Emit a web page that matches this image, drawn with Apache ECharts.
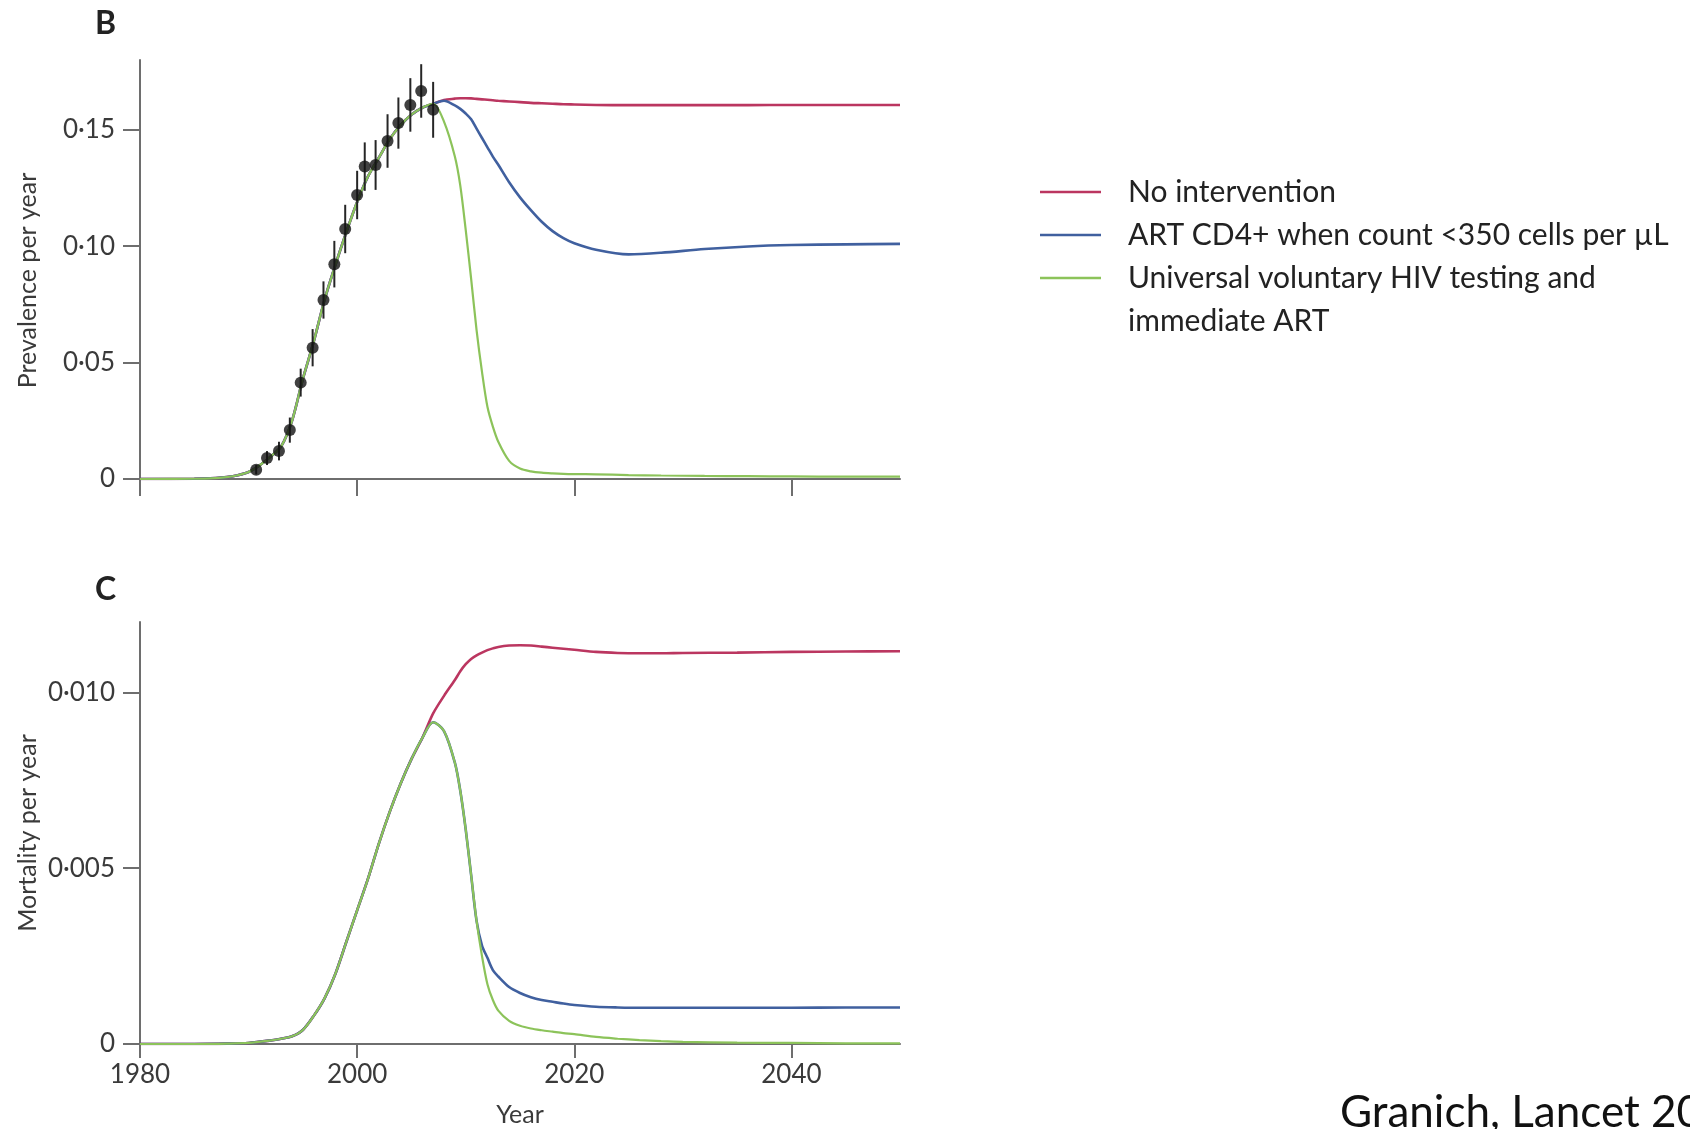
<!DOCTYPE html>
<html>
<head>
<meta charset="utf-8">
<script src="https://cdn.jsdelivr.net/npm/echarts@6/dist/echarts.min.js"></script>
<style>
  html, body { margin: 0; padding: 0; background: #fff; }
  #chart { width: 1690px; height: 1129px; }
</style>
</head>
<body>
<div id="chart"></div>
<script>
// panel B: prevalence per year
const prevYears = [1980, 1985, 1987, 1988, 1989, 1990, 1991, 1992, 1993, 1994, 1995, 1996, 1997, 1998, 1999, 2000, 2001, 2002, 2003, 2004, 2005, 2006, 2007,
  2008, 2009, 2009.5, 2010, 2010.5, 2011, 2011.5, 2012, 2012.5, 2013, 2014, 2015, 2016, 2017, 2018, 2019, 2020, 2022, 2025, 2028, 2032, 2036, 2040, 2045, 2050];
const prevNoIntervention = [0, 0.0001, 0.0004, 0.0008, 0.0016, 0.003, 0.0058, 0.0095, 0.014, 0.025, 0.043, 0.059, 0.077, 0.092, 0.106, 0.119, 0.13, 0.138, 0.146, 0.152, 0.1565, 0.1595, 0.1612,
  0.1628, 0.1634, 0.1636, 0.1636, 0.1635, 0.1633, 0.1631, 0.1629, 0.1627, 0.1625, 0.1622, 0.1619, 0.1616, 0.1614, 0.1612, 0.161, 0.1609, 0.1607, 0.1606, 0.1606, 0.1606, 0.1606, 0.1607, 0.1607, 0.1607];
const prevArt350 = [0, 0.0001, 0.0004, 0.0008, 0.0016, 0.003, 0.0058, 0.0095, 0.014, 0.025, 0.043, 0.059, 0.077, 0.092, 0.106, 0.119, 0.13, 0.138, 0.146, 0.152, 0.1565, 0.1595, 0.1612,
  0.1625, 0.1605, 0.159, 0.157, 0.1545, 0.1505, 0.1465, 0.1425, 0.1385, 0.135, 0.1275, 0.121, 0.1155, 0.1105, 0.1065, 0.1035, 0.1013, 0.0985, 0.0965, 0.0972, 0.0988, 0.0999, 0.1005, 0.1008, 0.101];
const prevUniversal = [0, 0.0001, 0.0004, 0.0008, 0.0016, 0.003, 0.0058, 0.0095, 0.014, 0.025, 0.043, 0.059, 0.077, 0.092, 0.106, 0.119, 0.13, 0.138, 0.146, 0.152, 0.1565, 0.1595, 0.1612,
  0.1535, 0.1385, 0.126, 0.107, 0.086, 0.064, 0.046, 0.031, 0.0225, 0.016, 0.0078, 0.0045, 0.0033, 0.0027, 0.0024, 0.0022, 0.0021, 0.002, 0.0017, 0.0015, 0.0013, 0.0012, 0.0011, 0.001, 0.001];

// observed prevalence with error bars
const obsYears = [1990.7, 1991.7, 1992.8, 1993.8, 1994.8, 1995.9, 1996.9, 1997.9, 1998.9, 2000.0, 2000.7, 2001.7, 2002.8, 2003.8, 2004.9, 2005.9, 2007.0];
const obsPrev = [0.004, 0.009, 0.012, 0.021, 0.0414, 0.0564, 0.0769, 0.0923, 0.1074, 0.122, 0.1342, 0.1349, 0.1452, 0.1529, 0.1607, 0.1667, 0.1586];
const obsErr = [0.002, 0.003, 0.004, 0.0054, 0.006, 0.008, 0.008, 0.010, 0.0104, 0.0104, 0.0104, 0.0107, 0.0115, 0.011, 0.0115, 0.0115, 0.012];

// panel C: mortality per year
const mortYears = [1980, 1985, 1988, 1990, 1992, 1993, 1994, 1995, 1996, 1997, 1998, 1999, 2000, 2001, 2002, 2003, 2004, 2005, 2006,
  2007, 2008, 2009, 2009.5, 2010, 2010.5, 2011, 2011.5, 2012, 2012.5, 2013, 2014, 2015, 2016, 2017, 2018, 2019, 2020, 2022, 2024, 2026, 2028, 2030, 2035, 2040, 2045, 2050];
const mortNoIntervention = [0, 0, 0.00001, 0.00003, 0.0001, 0.00015, 0.00022, 0.0004, 0.0008, 0.0013, 0.002, 0.0029, 0.0038, 0.0047, 0.0057, 0.0066, 0.0074, 0.0081, 0.0087,
  0.0094, 0.0099, 0.01035, 0.0106, 0.0108, 0.01095, 0.01105, 0.01113, 0.0112, 0.01125, 0.01129, 0.01133, 0.01134, 0.01133, 0.0113, 0.01127, 0.01124, 0.01121, 0.01115, 0.01112, 0.01111, 0.01111, 0.01112, 0.01113, 0.01115, 0.01116, 0.01117];
const mortArt350 = [0, 0, 0.00001, 0.00003, 0.0001, 0.00015, 0.00022, 0.0004, 0.0008, 0.0013, 0.002, 0.0029, 0.0038, 0.0047, 0.0057, 0.0066, 0.0074, 0.0081, 0.0087,
  0.00915, 0.0089, 0.008, 0.0072, 0.0061, 0.0048, 0.0035, 0.0028, 0.00245, 0.0021, 0.00192, 0.00162, 0.00145, 0.00133, 0.00125, 0.0012, 0.00115, 0.00111, 0.00106, 0.00104, 0.00103, 0.00103, 0.00103, 0.00103, 0.00103, 0.00104, 0.00104];
const mortUniversal = [0, 0, 0.00001, 0.00003, 0.0001, 0.00015, 0.00022, 0.0004, 0.0008, 0.0013, 0.002, 0.0029, 0.0038, 0.0047, 0.0057, 0.0066, 0.0074, 0.0081, 0.0087,
  0.00915, 0.0089, 0.008, 0.0072, 0.0061, 0.0048, 0.0035, 0.0025, 0.0017, 0.00125, 0.00095, 0.00066, 0.00052, 0.00044, 0.00039, 0.00035, 0.00031, 0.00028, 0.0002, 0.00015, 0.00011, 0.00008, 0.00006, 0.00004, 0.00003, 0.00002, 0.00002];

// axes
const yearTicks = [1980, 2000, 2020, 2040];
const prevTickValues = [0, 0.05, 0.10, 0.15];
const prevTickLabels = ['0', '0·05', '0·10', '0·15'];
const mortTickValues = [0, 0.005, 0.010];
const mortTickLabels = ['0', '0·005', '0·010'];

const seriesNames = ['No intervention', 'ART CD4+ when count <350 cells per µL', 'Universal voluntary HIV testing and\nimmediate ART'];
const seriesColors = ['#bb3660', '#40609f', '#8cc35a'];

const FONT = "Lato, 'Liberation Sans', sans-serif";
const axisGrey = '#6e6e6e';
const textGrey = '#3a3a3a';

function zip(xs, ys) {
  return xs.map((x, i) => [x, ys[i]]);
}
function pickLabel(values, labels) {
  return function (v) {
    const i = values.findIndex(t => Math.abs(t - v) < 1e-9);
    return i >= 0 ? labels[i] : '';
  };
}

function lineSeries(name, idx, years, vals, width) {
  return {
    name: name,
    type: 'line',
    xAxisIndex: idx,
    yAxisIndex: idx,
    data: zip(years, vals),
    showSymbol: false,
    symbol: 'none',
    smooth: 0.3,
    lineStyle: { width: width, color: seriesColors[seriesNames.indexOf(name)] },
    silent: true
  };
}

const chart = echarts.init(document.getElementById('chart'), null, { renderer: 'canvas' });

const legendGraphics = [];
const rowY = [192, 235, 278];
seriesNames.forEach((n, i) => {
  legendGraphics.push({
    type: 'line',
    shape: { x1: 1040, y1: rowY[i], x2: 1101, y2: rowY[i] },
    style: { stroke: seriesColors[i], lineWidth: 2.5 }
  });
  legendGraphics.push({
    type: 'text',
    x: 1128,
    y: rowY[i] - 21.5,
    style: {
      text: n,
      font: '30px ' + FONT,
      fill: '#222',
      lineHeight: 43,
      verticalAlign: 'top',
      align: 'left'
    }
  });
});

chart.setOption({
  animation: false,
  backgroundColor: '#ffffff',
  grid: [
    { left: 140, top: 60, width: 760, height: 419, outerBoundsMode: 'none' },
    { left: 140, top: 622, width: 760, height: 422, outerBoundsMode: 'none' }
  ],
  xAxis: [0, 1].map(i => ({
    type: 'value',
    gridIndex: i,
    min: 1980,
    max: 2050,
    name: i === 1 ? 'Year' : '',
    nameLocation: 'middle',
    nameGap: 58,
    nameTextStyle: { fontFamily: FONT, fontSize: 25, color: textGrey },
    axisLine: { show: true, onZero: false, lineStyle: { color: axisGrey, width: 2 } },
    axisTick: { show: true, customValues: yearTicks, length: i === 0 ? 17 : 14, lineStyle: { color: axisGrey, width: 2 } },
    axisLabel: {
      show: i === 1,
      customValues: yearTicks,
      formatter: v => String(v),
      fontFamily: FONT,
      fontSize: 26,
      color: textGrey,
      margin: 18
    },
    splitLine: { show: false }
  })),
  yAxis: [
    {
      type: 'value',
      gridIndex: 0,
      min: 0,
      max: 0.18,
      name: 'Prevalence per year',
      nameLocation: 'middle',
      nameGap: 100,
      nameTextStyle: { fontFamily: FONT, fontSize: 25, color: textGrey, padding: [0, 22, 0, 0] },
      axisLine: { show: true, lineStyle: { color: axisGrey, width: 2 } },
      axisTick: { show: true, customValues: prevTickValues, length: 17, lineStyle: { color: axisGrey, width: 2 } },
      axisLabel: {
        customValues: prevTickValues,
        formatter: pickLabel(prevTickValues, prevTickLabels),
        fontFamily: FONT,
        fontSize: 26,
        color: textGrey,
        margin: 25
      },
      splitLine: { show: false }
    },
    {
      type: 'value',
      gridIndex: 1,
      min: 0,
      max: 0.012,
      name: 'Mortality per year',
      nameLocation: 'middle',
      nameGap: 100,
      nameTextStyle: { fontFamily: FONT, fontSize: 25, color: textGrey },
      axisLine: { show: true, lineStyle: { color: axisGrey, width: 2 } },
      axisTick: { show: true, customValues: mortTickValues, length: 17, lineStyle: { color: axisGrey, width: 2 } },
      axisLabel: {
        customValues: mortTickValues,
        formatter: pickLabel(mortTickValues, mortTickLabels),
        fontFamily: FONT,
        fontSize: 26,
        color: textGrey,
        margin: 25
      },
      splitLine: { show: false }
    }
  ],
  series: [
    lineSeries(seriesNames[0], 0, prevYears, prevNoIntervention, 2.6),
    lineSeries(seriesNames[1], 0, prevYears, prevArt350, 2.6),
    lineSeries(seriesNames[2], 0, prevYears, prevUniversal, 2.2),
    {
      type: 'custom',
      xAxisIndex: 0,
      yAxisIndex: 0,
      silent: true,
      z: 5,
      data: obsYears.map((y, i) => [y, obsPrev[i] - obsErr[i], obsPrev[i] + obsErr[i]]),
      encode: { x: 0, y: [1, 2] },
      renderItem: function (params, api) {
        const lo = api.coord([api.value(0), api.value(1)]);
        const hi = api.coord([api.value(0), api.value(2)]);
        return {
          type: 'line',
          shape: { x1: lo[0], y1: lo[1], x2: hi[0], y2: hi[1] },
          style: { stroke: '#262626', lineWidth: 2 }
        };
      }
    },
    {
      type: 'scatter',
      xAxisIndex: 0,
      yAxisIndex: 0,
      silent: true,
      z: 6,
      symbol: 'circle',
      symbolSize: 12,
      itemStyle: { color: '#111111' },
      data: zip(obsYears, obsPrev)
    },
    lineSeries(seriesNames[0], 1, mortYears, mortNoIntervention, 2.6),
    lineSeries(seriesNames[1], 1, mortYears, mortArt350, 2.6),
    lineSeries(seriesNames[2], 1, mortYears, mortUniversal, 2.2)
  ],
  graphic: [
    { type: 'text', x: 95, y: 24, style: { text: 'B', font: 'bold 32px ' + FONT, fill: '#222', verticalAlign: 'middle' } },
    { type: 'text', x: 95, y: 590, style: { text: 'C', font: 'bold 32px ' + FONT, fill: '#222', verticalAlign: 'middle' } },
    { type: 'text', x: 1340, y: 1113, style: { text: 'Granich, Lancet 2009', font: '44px Lato, "Open Sans", sans-serif', fill: '#111', verticalAlign: 'middle' } }
  ].concat(legendGraphics)
});
</script>
</body>
</html>
